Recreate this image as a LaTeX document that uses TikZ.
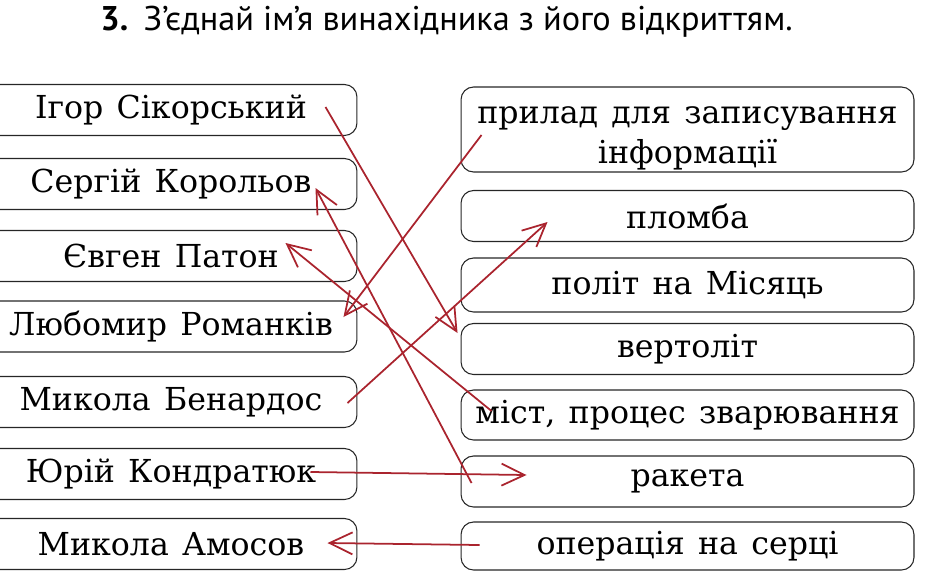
\documentclass[tikz,border=0pt]{standalone}
\usepackage{fontspec}
\setmainfont{DejaVu Serif}
\newfontfamily\titlefont{PT Sans}
\usepackage{tikz}
\usetikzlibrary{arrows.meta,calc}
\definecolor{linkred}{RGB}{170,36,46}
\newcommand\boxtextfont{\fontsize{18}{23}\selectfont\spaceskip=0.42em plus 0.1em\relax}
\tikzset{
  namebox/.style={draw=black!85,line width=0.6pt,rounded corners=0.25cm,
    minimum width=7.44cm,minimum height=1.02cm,inner sep=0pt,
    font=\boxtextfont},
  findbox/.style={namebox,minimum width=9.06cm,align=center},
  linkarrow/.style={-{Straight Barb[length=4.6mm,width=4.4mm]},draw=linkred,line width=1pt},
  tasktitle/.style={font=\titlefont\fontsize{19.5}{22}\selectfont,inner sep=0pt}
}
\begin{document}
\begin{tikzpicture}[x=0.02cm,y=-0.02cm]
  \clip (0,0) rectangle (925,578);
  \node[tasktitle,anchor=west] (title) at (100,22)
    {\textbf{3.}\hspace{0.45em}З’єднай ім’я винахідника з його відкриттям.};
  % inventors
  \node[namebox] (sikorsky) at (171,110) {Ігор Сікорський};
  \node[namebox] (korolov) at (171,184) {Сергій Корольов};
  \node[namebox] (paton) at (171,256) {Євген Патон};
  \node[namebox] (romankiv) at (171,326.5) {Любомир Романків};
  \node[namebox] (benardos) at (171,402) {Микола Бенардос};
  \node[namebox] (kondratiuk) at (171,474) {Юрій Кондратюк};
  \node[namebox] (amosov) at (171,544) {Микола Амосов};
  % discoveries
  \node[findbox,minimum height=1.7cm] (prylad) at (687.5,129.5)
    {\raisebox{-0.12cm}[\height][\depth]{\begin{tabular}{@{}c@{}}прилад для записування\\інформації\end{tabular}}};
  \node[findbox] (plomba) at (687.5,216) {пломба};
  \node[findbox,minimum height=1.08cm] (polit) at (687.5,285) {політ на Місяць};
  \node[findbox] (vertolit) at (687.5,349) {вертоліт};
  \node[findbox,minimum height=1cm] (mist) at (687.5,415) {міст, процес зварювання};
  \node[findbox] (raketa) at (687.5,481.5) {ракета};
  \node[findbox,minimum height=0.96cm] (operatsiia) at (687.5,546) {операція на серці};
  % answers
  \draw[linkarrow] ($(sikorsky.east)+(-32,-3)$) -- ($(vertolit.west)+(-3,-16)$);
  \draw[linkarrow] ($(prylad.west)+(21,5.5)$) -- ($(romankiv.east)+(-14,-9.5)$);
  \draw[linkarrow] ($(benardos.east)+(-10,1)$) -- ($(plomba.west)+(87,6)$);
  \draw[linkarrow] ($(raketa.west)+(11,1.5)$) -- ($(korolov.east)+(-42,4)$);
  \draw[linkarrow] ($(mist.west)+(31,-4)$) -- ($(paton.east)+(-72,-13)$);
  \draw[linkarrow] ($(kondratiuk.east)+(-47,-2)$) -- ($(raketa.west)+(66,-6.5)$);
  \draw[linkarrow] ($(operatsiia.west)+(19,-1)$) -- ($(amosov.east)+(-30,-1)$);
\end{tikzpicture}
\end{document}
